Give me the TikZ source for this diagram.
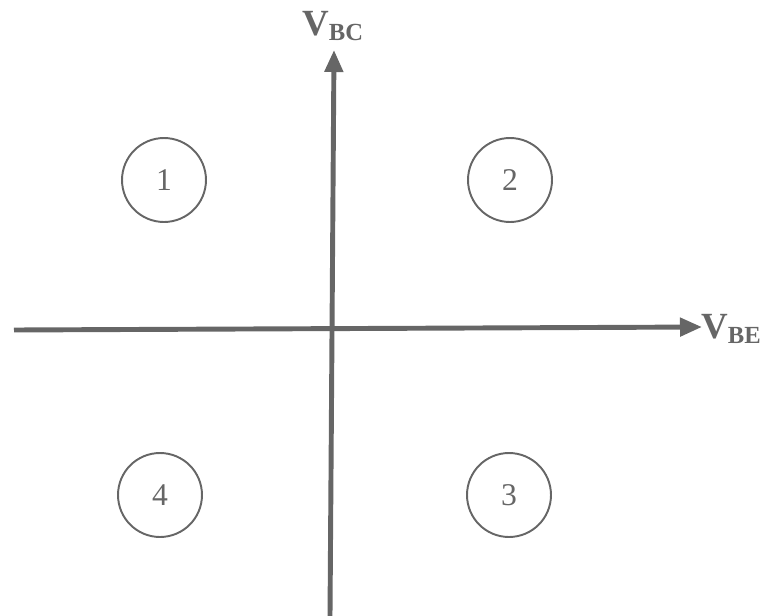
\documentclass[tikz,border=0pt]{standalone}
\usepackage{fontspec}
\setmainfont{Liberation Serif}
\usetikzlibrary{positioning, arrows.meta}
\definecolor{inkgray}{HTML}{666666}
\newcommand{\axisname}[2]{{\fontsize{21}{21}\selectfont #1}\raisebox{-0.1cm}{\fontsize{14}{14}\selectfont #2}}

\begin{document}
\begin{tikzpicture}[x=0.02cm, y=-0.02cm,
        axis/.style={draw=inkgray, line width=2.8pt, -{Triangle[length=0.44cm, width=0.36cm]}},
        region/.style={circle, draw=inkgray, line width=1.1pt, minimum size=1.68cm, inner sep=0pt, text=inkgray, font=\fontsize{18}{18}\selectfont},
        axislabel/.style={text=inkgray, font=\bfseries, inner sep=0pt}]
        \useasboundingbox (0,0) rectangle (762,616);
        % axes
        \coordinate (hstart) at (14,330);
        \coordinate (hend) at (702,327);
        \coordinate (vstart) at (330,616);
        \coordinate (vend) at (334,50);
        \draw[axis] (hstart) -- (hend);
        \draw[axis] (vstart) -- (vend);
        \node[axislabel, anchor=base west](vbe) at (701,338){\axisname{V}{BE}};
        \node[axislabel, anchor=base west](vbc) at (302,35){\axisname{V}{BC}};
        % regions
        \node[region](r1) at (164,180){1};
        \node[region](r2) at (510,180){2};
        \node[region](r3) at (509,495){3};
        \node[region](r4) at (160,495){4};
    \end{tikzpicture}
\end{document}
